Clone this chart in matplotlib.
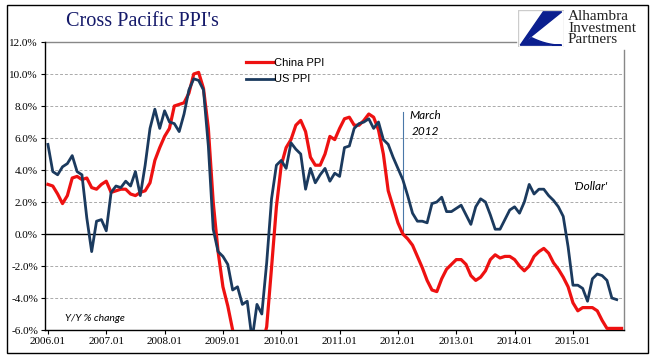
import numpy as np
import matplotlib.pyplot as plt
from matplotlib.patches import Rectangle, Polygon

# monthly y/y % change, 2006.01 onward
china_ppi = [
    3.1, 3.0, 2.5, 1.9, 2.4, 3.5, 3.6, 3.4, 3.5, 2.9, 2.8, 3.1,
    3.3, 2.6, 2.7, 2.8, 2.8, 2.5, 2.4, 2.6, 2.7, 3.2, 4.6, 5.4,
    6.1, 6.6, 8.0, 8.1, 8.2, 8.8, 10.0, 10.1, 9.1, 6.6, 2.0, -1.1,
    -3.3, -4.5, -6.0, -6.6, -7.2, -7.8, -8.2, -7.9, -7.0, -5.8, -2.1, 1.7,
    4.3, 5.4, 5.9, 6.8, 7.1, 6.4, 4.8, 4.3, 4.3, 5.0, 6.1, 5.9,
    6.6, 7.2, 7.3, 6.8, 6.8, 7.1, 7.5, 7.3, 6.5, 5.0, 2.7, 1.7,
    0.7, 0.0, -0.3, -0.7, -1.4, -2.1, -2.9, -3.5, -3.6, -2.8, -2.2, -1.9,
    -1.6, -1.6, -1.9, -2.6, -2.9, -2.7, -2.3, -1.6, -1.3, -1.5, -1.4, -1.4,
    -1.6, -2.0, -2.3, -2.0, -1.4, -1.1, -0.9, -1.2, -1.8, -2.2, -2.7, -3.3,
    -4.3, -4.8, -4.6, -4.6, -4.6, -4.8, -5.4, -5.9, -5.9, -5.9, -5.9,
]
us_ppi = [
    5.6, 3.9, 3.7, 4.2, 4.4, 4.9, 3.9, 3.7, 1.0, -1.1, 0.8, 0.9,
    0.2, 2.6, 3.0, 2.9, 3.3, 3.0, 3.9, 2.4, 4.3, 6.6, 7.8, 6.6,
    7.7, 7.0, 6.9, 6.4, 7.5, 9.0, 9.7, 9.6, 9.0, 5.5, 0.3, -1.1,
    -1.4, -1.9, -3.5, -3.3, -4.4, -4.2, -6.6, -4.4, -5.0, -1.8, 2.2, 4.3,
    4.6, 4.1, 5.7, 5.3, 5.0, 2.8, 4.1, 3.2, 3.7, 4.1, 3.3, 3.8,
    3.6, 5.4, 5.5, 6.6, 6.9, 7.0, 7.2, 6.6, 7.0, 5.9, 5.6, 4.8,
    4.1, 3.4, 2.4, 1.3, 0.8, 0.8, 0.7, 1.9, 2.0, 2.3, 1.4, 1.4,
    1.6, 1.8, 1.2, 0.6, 1.7, 2.2, 2.0, 1.2, 0.3, 0.3, 0.9, 1.5,
    1.7, 1.3, 2.0, 3.1, 2.5, 2.8, 2.8, 2.4, 2.1, 1.7, 1.1, -0.8,
    -3.2, -3.2, -3.4, -4.2, -2.8, -2.5, -2.6, -2.9, -4.0, -4.1,
]
year_labels = ['2006.01', '2007.01', '2008.01', '2009.01', '2010.01',
               '2011.01', '2012.01', '2013.01', '2014.01', '2015.01']
y_ticks = [-6, -4, -2, 0, 2, 4, 6, 8, 10, 12]
march_2012_idx = 73

RED = '#ee1111'
NAVY = '#1b3a5e'
W, H = 670, 358

fig = plt.figure(figsize=(W / 100, H / 100), dpi=100)
fig.patches.append(Rectangle((7 / W, 5 / H), 641 / W, 348 / H, transform=fig.transFigure,
                             fill=False, edgecolor='black', linewidth=1.0))

ax = fig.add_axes([45 / W, (H - 330) / H, (624 - 45) / W, (330 - 42) / H])
xmax = 118.5
ax.set_xlim(-0.6, xmax)
ax.set_ylim(-6, 12)

for v in y_ticks:
    if v == 0:
        ax.axhline(0, color='black', linewidth=1.0, zorder=1)
    elif v != 12 and v != -6:
        ax.axhline(v, color='#aaaaaa', linewidth=0.7, linestyle=(0, (3, 2)), zorder=0)

ax.plot(np.arange(len(china_ppi)), china_ppi, color=RED, linewidth=2.3, label='China PPI', zorder=3)
ax.plot(np.arange(len(us_ppi)), us_ppi, color=NAVY, linewidth=2.0, label='US PPI', zorder=4)

ax.plot([march_2012_idx, march_2012_idx], [0, 7.6], color='#4a78a8', linewidth=0.8, zorder=2)

for s in ['top', 'right']:
    ax.spines[s].set_visible(False)
ax.spines['left'].set_linewidth(1.0)
ax.spines['bottom'].set_linewidth(1.0)
ax.plot([-0.6, 96.2], [12, 12], color='#888888', linewidth=1.0, clip_on=False)
ax.plot([xmax, xmax], [-6, 11.5], color='#888888', linewidth=1.0, clip_on=False)

ax.set_yticks(y_ticks)
ax.set_yticklabels([f'{v:.1f}%' for v in y_ticks], family='Liberation Serif', fontsize=8)
ax.set_xticks(np.arange(0, 120, 12))
ax.set_xticklabels(year_labels, family='Liberation Serif', fontsize=8)
ax.tick_params(axis='both', direction='out', length=3, width=0.8, pad=2)

ax.legend(loc='upper left', bbox_to_anchor=(0.33, 0.98), frameon=False, handlelength=2.5,
          handletextpad=0.05, labelspacing=0.6, prop={'family': 'Liberation Sans', 'size': 8})

ax.text(3.5, -5.3, 'Y/Y % change', style='italic', family='Lato', fontsize=7.5, va='center')
ax.text(74.3, 7.4, 'March', style='italic', family='Lato', fontsize=8.5, va='center')
ax.text(74.9, 6.4, '2012', style='italic', family='Lato', fontsize=8.5, va='center')
ax.text(108.2, 2.95, "'Dollar'", style='italic', family='Lato', fontsize=8.5, va='center')

fig.text(66 / W, 1 - 22 / H, "Cross Pacific PPI's", family='Liberation Serif', fontsize=14.6,
         color='#151a6a', va='center')

# logo
lax = fig.add_axes([518 / W, 1 - 47 / H, 46 / W, 37 / H])
lax.set_xlim(0, 1)
lax.set_ylim(0, 1)
lax.axis('off')
lax.add_patch(Rectangle((0, 0), 1, 1, fill=False, edgecolor='#cccccc', linewidth=1.0))
t = np.linspace(0, 1, 30)
lax.add_patch(Polygon([(0.05, 0.05), (0.95, 0.95), (0.55, 0.95)], closed=True, color='#0b1f8f'))
lax.add_patch(Polygon([(0.05, 0.05)] + [(0.3 + 0.65 * s, 0.05 + 0.2 * (1 - s) ** 2) for s in t] + [(0.95, 0.05)],
                      closed=True, color='#0b1f8f'))
fig.text(568 / W, 1 - 28 / H, 'Alhambra\nInvestment\nPartners', family='Liberation Serif',
         fontsize=11, color='#222222', va='center', linespacing=0.85)

fig.savefig('out.png', dpi=100)
